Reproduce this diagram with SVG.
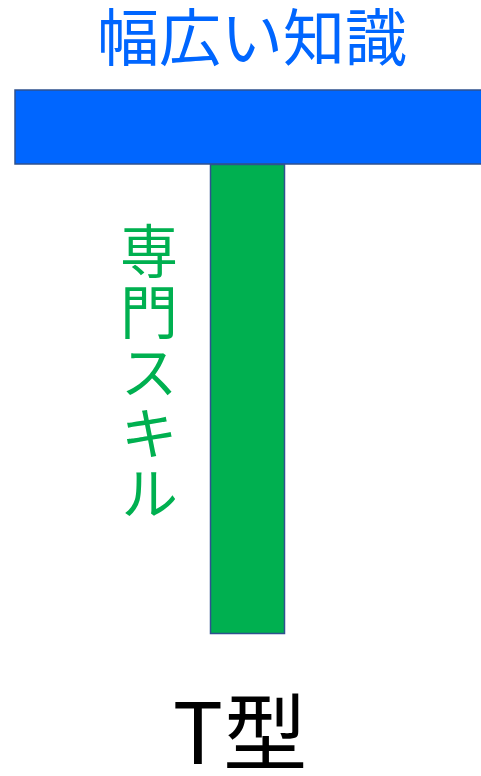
<svg xmlns="http://www.w3.org/2000/svg" width="481" height="776" viewBox="0 0 481 776">
<style>
.t{font-family:"Noto Sans CJK JP","Noto Sans",sans-serif;}
.bar{stroke:#2F528F;stroke-width:1.5;}
</style>
<rect width="481" height="776" fill="#fff"/>
<g id="wide">
<rect class="bar" x="15" y="90" width="480" height="74" fill="#0066FF"/>
<text class="t" x="252" y="61" font-size="62" fill="#0066FF" text-anchor="middle">幅広い知識</text>
</g>
<g id="deep">
<rect class="bar" x="210.5" y="164.5" width="74" height="469" fill="#00B050"/>
<text class="t" x="149" y="222" font-size="58" letter-spacing="2.5" fill="#00B050" style="writing-mode:vertical-rl">専門スキル</text>
</g>
<g id="label">
<text class="t" x="240" y="764" font-size="84" fill="#000" text-anchor="middle">T型</text>
</g>
<g id="connectors"></g>
</svg>
